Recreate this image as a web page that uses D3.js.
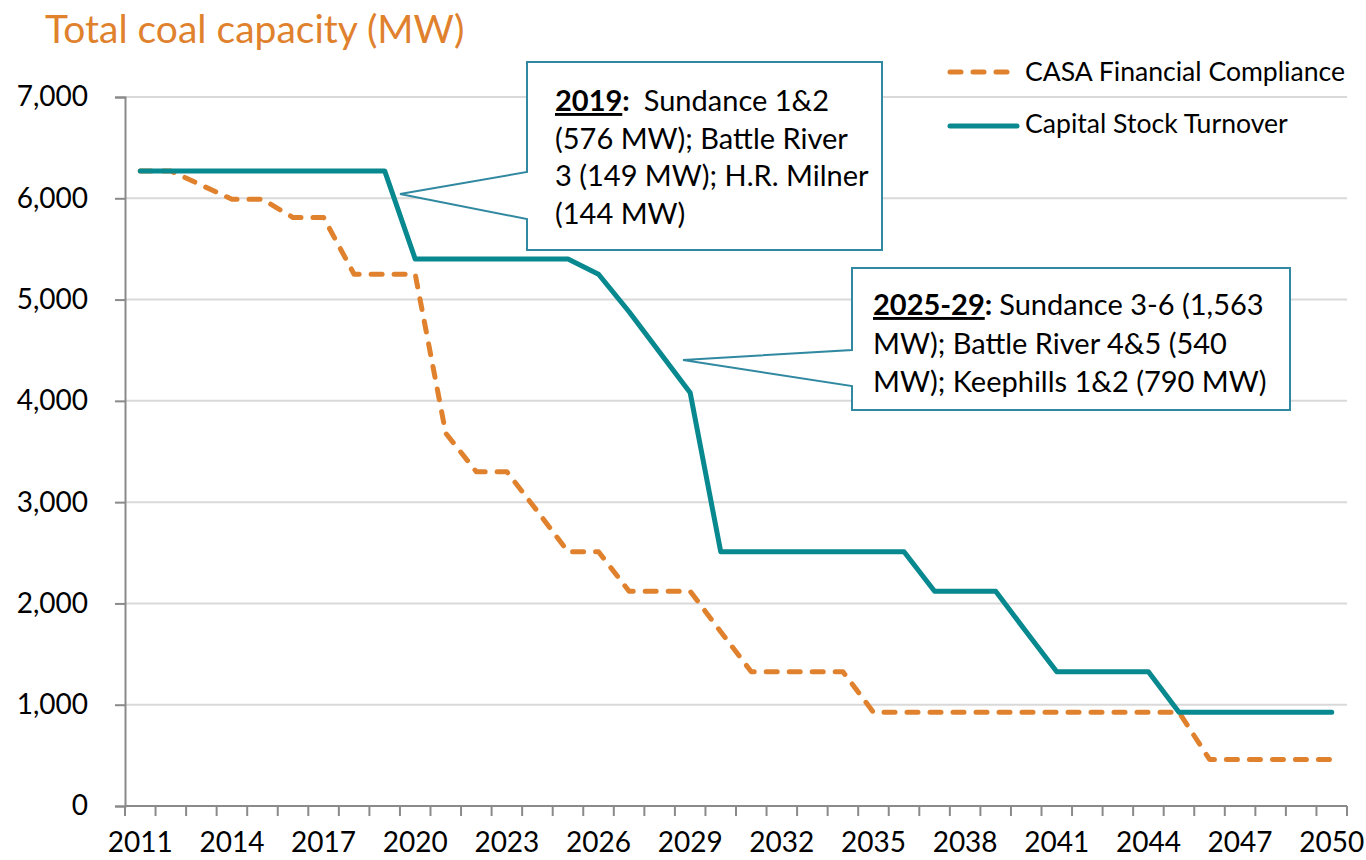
<!DOCTYPE html>
<html>
<head>
<meta charset="utf-8">
<script src="https://cdn.jsdelivr.net/npm/d3@7/dist/d3.min.js"></script>
<style>
  html, body { margin: 0; padding: 0; background: #fff; }
  svg text { font-family: Lato, "Open Sans", sans-serif; fill: #000; }
</style>
</head>
<body>
<svg id="chart" width="1366" height="860"></svg>
<script>
// Alberta coal fleet: total capacity (MW) by year under two retirement paths
const years = [2011, 2012, 2013, 2014, 2015, 2016, 2017, 2018, 2019, 2020,
               2021, 2022, 2023, 2024, 2025, 2026, 2027, 2028, 2029, 2030,
               2031, 2032, 2033, 2034, 2035, 2036, 2037, 2038, 2039, 2040,
               2041, 2042, 2043, 2044, 2045, 2046, 2047, 2048, 2049, 2050];

const casaCompliance = [6270, 6270, 6130, 5990, 5990, 5810, 5810, 5250, 5250, 5250,
                        3680, 3300, 3300, 2910, 2510, 2510, 2120, 2120, 2120, 1720,
                        1325, 1325, 1325, 1325, 925, 925, 925, 925, 925, 925,
                        925, 925, 925, 925, 925, 460, 460, 460, 460, 460];

const stockTurnover = [6270, 6270, 6270, 6270, 6270, 6270, 6270, 6270, 6270, 5400,
                       5400, 5400, 5400, 5400, 5400, 5250, 4880, 4480, 4080, 2510,
                       2510, 2510, 2510, 2510, 2510, 2510, 2120, 2120, 2120, 1720,
                       1325, 1325, 1325, 1325, 925, 925, 925, 925, 925, 925];

const seriesNames = ["CASA Financial Compliance", "Capital Stock Turnover"];
const yTickValues = [0, 1000, 2000, 3000, 4000, 5000, 6000, 7000];
const xTickYears = [2011, 2014, 2017, 2020, 2023, 2026, 2029, 2032, 2035, 2038, 2041, 2044, 2047, 2050];

const titleText = "Total coal capacity (MW)";
const note2019 = { head: "2019", rest: "Sundance 1&2",
                   lines: ["(576 MW); Battle River", "3 (149 MW); H.R. Milner", "(144 MW)"] };
const note2025 = { head: "2025-29", rest: "Sundance 3-6 (1,563",
                   lines: ["MW); Battle River 4&5 (540", "MW); Keephills 1&2 (790 MW)"] };

// ---- styling
const ORANGE = "#e0812e";
const TEAL = "#08888f";
const CALLOUT = "#3189a1";
const GRID = "#d9d9d9";
const AXIS = "#8a8a8a";

const svg = d3.select("#chart");

const x = d3.scaleBand().domain(years).range([125, 1347]).padding(0);
const y = d3.scaleLinear().domain([0, 7000]).range([806, 97]);
const cx = yr => x(yr) + x.bandwidth() / 2;

// title
svg.append("text")
  .attr("x", 45).attr("y", 43)
  .style("font-size", "39px")
  .style("fill", ORANGE)
  .text(titleText);

// horizontal gridlines
svg.append("g")
  .selectAll("line")
  .data(yTickValues.filter(v => v > 0))
  .join("line")
  .attr("x1", 125).attr("x2", 1347)
  .attr("y1", d => y(d)).attr("y2", d => y(d))
  .attr("stroke", GRID).attr("stroke-width", 2);

// y axis
const yAxis = svg.append("g")
  .attr("transform", "translate(125,0)")
  .call(d3.axisLeft(y).tickValues(yTickValues).tickSize(10).tickPadding(27)
        .tickFormat(d3.format(",")));
yAxis.select(".domain").attr("stroke", AXIS).attr("stroke-width", 2);
yAxis.selectAll(".tick line").attr("stroke", AXIS).attr("stroke-width", 2);
yAxis.selectAll(".tick text").style("font-size", "28px").style("font-family", "Lato, sans-serif");

// x axis: labels every third year, tick marks between categories
const xAxis = svg.append("g")
  .attr("transform", "translate(0,806)")
  .call(d3.axisBottom(x).tickValues(xTickYears).tickSize(0).tickPadding(26));
xAxis.select(".domain").remove();
xAxis.selectAll(".tick text").style("font-size", "28px").style("font-family", "Lato, sans-serif");

const boundaries = years.map(yr => x(yr)).concat([x.range()[1]]);
svg.append("g")
  .selectAll("line")
  .data(boundaries)
  .join("line")
  .attr("x1", d => d).attr("x2", d => d)
  .attr("y1", 806).attr("y2", 816)
  .attr("stroke", AXIS).attr("stroke-width", 2);
svg.append("line")
  .attr("x1", 125).attr("x2", 1347).attr("y1", 806).attr("y2", 806)
  .attr("stroke", AXIS).attr("stroke-width", 2);

// series lines
const line = d3.line().x(d => cx(d.year)).y(d => y(d.value));
const casaData = years.map((yr, i) => ({ year: yr, value: casaCompliance[i] }));
const turnData = years.map((yr, i) => ({ year: yr, value: stockTurnover[i] }));

svg.append("path")
  .datum(casaData)
  .attr("d", line)
  .attr("fill", "none")
  .attr("stroke", ORANGE).attr("stroke-width", 5)
  .attr("stroke-dasharray", "11,12")
  .attr("stroke-linecap", "round").attr("stroke-linejoin", "round");

svg.append("path")
  .datum(turnData)
  .attr("d", line)
  .attr("fill", "none")
  .attr("stroke", TEAL).attr("stroke-width", 5)
  .attr("stroke-linecap", "round").attr("stroke-linejoin", "round");

// legend
const legend = svg.append("g");
legend.append("line")
  .attr("x1", 950).attr("x2", 1007).attr("y1", 72).attr("y2", 72)
  .attr("stroke", ORANGE).attr("stroke-width", 5)
  .attr("stroke-dasharray", "11,12").attr("stroke-linecap", "round");
legend.append("text").attr("x", 1025).attr("y", 81)
  .style("font-size", "26.6px").text(seriesNames[0]);
legend.append("line")
  .attr("x1", 950).attr("x2", 1017).attr("y1", 126).attr("y2", 126)
  .attr("stroke", TEAL).attr("stroke-width", 5).attr("stroke-linecap", "round");
legend.append("text").attr("x", 1025).attr("y", 133)
  .style("font-size", "26.6px").text(seriesNames[1]);

// callout boxes with pointers
function callout(box, tip, notch, note, textX, firstBaseline, lineGap, gapAfterHead) {
  const g = svg.append("g");
  const p = d3.path();
  p.moveTo(box.x0, box.y0);
  p.lineTo(box.x1, box.y0);
  p.lineTo(box.x1, box.y1);
  p.lineTo(box.x0, box.y1);
  p.lineTo(box.x0, notch[1]);
  p.lineTo(tip[0], tip[1]);
  p.lineTo(box.x0, notch[0]);
  p.closePath();
  g.append("path").attr("d", p.toString())
    .attr("fill", "#fff").attr("stroke", CALLOUT).attr("stroke-width", 2)
    .attr("stroke-linejoin", "miter");

  const t = g.append("text").attr("x", textX).attr("y", firstBaseline)
    .style("font-size", "29px");
  t.append("tspan").style("font-weight", "700")
    .attr("text-decoration", "underline").style("text-decoration", "underline")
    .text(note.head);
  t.append("tspan").style("font-weight", "700").text(":");
  t.append("tspan").attr("dx", gapAfterHead).text(note.rest);

  note.lines.forEach((ln, i) => {
    g.append("text").attr("x", textX).attr("y", firstBaseline + lineGap * (i + 1))
      .style("font-size", "29px").text(ln);
  });
}

callout({ x0: 527, y0: 62, x1: 882, y1: 250 }, [400, 194], [172, 219],
        note2019, 555, 111, 37.5, 14);
callout({ x0: 852, y0: 268, x1: 1290, y1: 410 }, [683, 360], [350, 386],
        note2025, 873, 315, 38.5, 7);
</script>
</body>
</html>
